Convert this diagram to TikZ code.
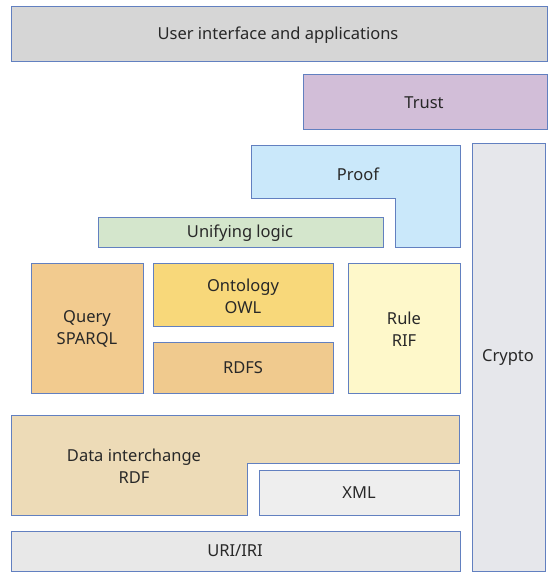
\documentclass[tikz,border=0pt]{standalone}
\usepackage{fontspec}
\setmainfont{Noto Sans}
\definecolor{edge}{RGB}{98,128,192}
\definecolor{txt}{RGB}{40,40,40}
\definecolor{cUI}{RGB}{214,214,214}
\definecolor{cTrust}{RGB}{210,190,216}
\definecolor{cProof}{RGB}{202,232,250}
\definecolor{cCrypto}{RGB}{230,231,235}
\definecolor{cLogic}{RGB}{212,230,204}
\definecolor{cQuery}{RGB}{242,203,143}
\definecolor{cOnto}{RGB}{248,216,122}
\definecolor{cRDFS}{RGB}{240,202,142}
\definecolor{cRule}{RGB}{254,248,202}
\definecolor{cData}{RGB}{237,219,183}
\definecolor{cXML}{RGB}{238,238,238}
\definecolor{cURI}{RGB}{232,232,232}
\tikzset{
  blk/.style={draw=edge, line width=1pt},
  lbl/.style={text=txt, font=\fontsize{16.5}{22}\selectfont, align=center, inner sep=0pt}
}
\begin{document}
\begin{tikzpicture}[x=1pt,y=-1pt]
\useasboundingbox (0,0) rectangle (554,577);
% blocks
\draw[blk, fill=cUI] (11,7) rectangle (547,62);
\draw[blk, fill=cTrust] (303,75) rectangle (547,130);
\draw[blk, fill=cProof] (251,146) -- (460,146) -- (460,247) -- (395,247) -- (395,198) -- (251,198) -- cycle;
\draw[blk, fill=cCrypto] (472,144) rectangle (545,571);
\draw[blk, fill=cLogic] (98,217) rectangle (383,247);
\draw[blk, fill=cQuery] (31,263) rectangle (143,393);
\draw[blk, fill=cOnto] (153,263) rectangle (333,326);
\draw[blk, fill=cRDFS] (153,342) rectangle (333,393);
\draw[blk, fill=cRule] (348,263) rectangle (460,393);
\draw[blk, fill=cData] (11,415) -- (459,415) -- (459,463) -- (247,463) -- (247,515) -- (11,515) -- cycle;
\draw[blk, fill=cXML] (259,470) rectangle (459,515);
\draw[blk, fill=cURI] (11,531) rectangle (460,571);
% labels
\node[lbl] (ui) at (278,35) {User interface and applications};
\node[lbl] (trust) at (424,103) {Trust};
\node[lbl] (proof) at (358,174) {Proof};
\node[lbl] (crypto) at (508,358) {Crypto};
\node[lbl] (logic) at (240,233) {Unifying logic};
\node[lbl] (query) at (87,329) {Query\\SPARQL};
\node[lbl] (onto) at (243,296) {Ontology\\OWL};
\node[lbl] (rdfs) at (243,368) {RDFS};
\node[lbl] (rule) at (404,329) {Rule\\RIF};
\node[lbl] (data) at (134,466) {Data interchange\\RDF};
\node[lbl] (xml) at (359,493) {XML};
\node[lbl] (uri) at (235,551) {URI/IRI};
\end{tikzpicture}
\end{document}
